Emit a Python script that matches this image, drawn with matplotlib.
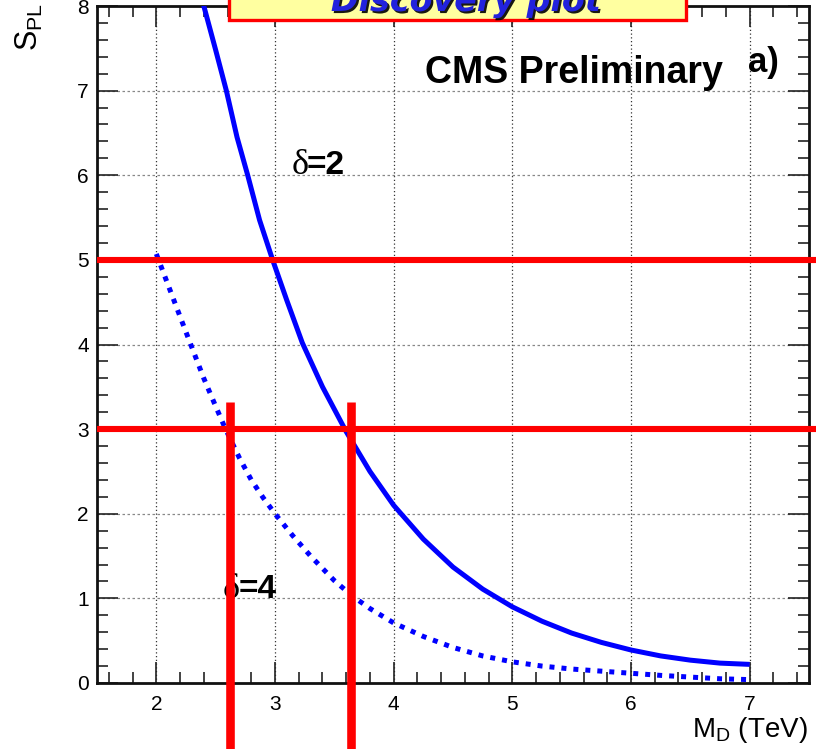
import matplotlib
matplotlib.use("Agg")
import matplotlib.pyplot as plt
from matplotlib.patches import Rectangle
from matplotlib.ticker import MultipleLocator
import matplotlib.patheffects as pe

plt.rcParams['font.family'] = ['Liberation Sans', 'DejaVu Sans']
plt.rcParams['mathtext.fontset'] = 'custom'
plt.rcParams['mathtext.rm'] = 'Liberation Sans'
plt.rcParams['mathtext.it'] = 'Liberation Sans:italic'

# Significance S_PL versus M_D for two numbers of extra dimensions
md_delta2 = [2.35, 2.40, 2.50, 2.59, 2.68, 2.77, 2.87, 2.98, 3.10, 3.23, 3.40, 3.60,
             3.80, 4.00, 4.25, 4.50, 4.75, 5.00, 5.25, 5.50, 5.75, 6.00, 6.25, 6.50,
             6.75, 7.00]
spl_delta2 = [8.30, 8.00, 7.48, 7.00, 6.45, 6.00, 5.47, 5.00, 4.52, 4.02, 3.50, 2.97,
              2.50, 2.10, 1.70, 1.37, 1.11, 0.90, 0.73, 0.59, 0.48, 0.39, 0.32, 0.27,
              0.235, 0.22]

md_delta4 = [2.00, 2.10, 2.20, 2.29, 2.40, 2.50, 2.58, 2.70, 2.80, 2.90, 3.00, 3.15,
             3.30, 3.50, 3.65, 3.80, 4.00, 4.25, 4.50, 4.75, 5.00, 5.25, 5.50, 5.75,
             6.00, 6.25, 6.50, 6.75, 7.00]
spl_delta4 = [5.07, 4.70, 4.33, 4.00, 3.60, 3.27, 3.01, 2.66, 2.40, 2.19, 2.00, 1.74,
              1.50, 1.21, 1.03, 0.88, 0.71, 0.55, 0.42, 0.32, 0.25, 0.20, 0.165, 0.14,
              0.115, 0.09, 0.07, 0.05, 0.04]

# Discovery thresholds and the corresponding reach in M_D
thresholds = [5, 3]
reach_md = [2.624, 3.640]
reach_top = 3.32

xlim = (1.5, 7.5)
ylim = (0, 8)
xticks = [2, 3, 4, 5, 6, 7]
yticks = [0, 1, 2, 3, 4, 5, 6, 7, 8]

W, H = 816, 749
fig = plt.figure(figsize=(W / 100, H / 100), dpi=100)
ax = fig.add_axes([97 / W, 1 - 683 / H, (809 - 97) / W, (683 - 6) / H])

ax.set_xlim(*xlim)
ax.set_ylim(*ylim)
ax.set_xticks(xticks)
ax.set_yticks(yticks)
ax.xaxis.set_minor_locator(MultipleLocator(0.2))
ax.yaxis.set_minor_locator(MultipleLocator(0.2))
ax.tick_params(which='both', direction='in', top=True, right=True,
               color='#222222', width=1.2)
ax.tick_params(which='major', length=15, labelsize=15, pad=6)
ax.tick_params(which='minor', length=8)
ax.tick_params(axis='x', which='major', pad=9)
for s in ax.spines.values():
    s.set_linewidth(2.0)
    s.set_color('#111111')

ax.xaxis.grid(True, which='major', color='#333333', linestyle=(0, (1, 2)), linewidth=0.9)
ax.yaxis.grid(True, which='major', color='#888888', linestyle=(0, (2, 2)), linewidth=0.9)
ax.set_axisbelow(True)

# Curves
ax.plot(md_delta2, spl_delta2, color='#0000ff', linewidth=3.6, solid_capstyle='butt',
        solid_joinstyle='round', zorder=3)
ax.plot(md_delta4, spl_delta4, color='#0000ff', linewidth=3.6,
        linestyle=(0, (1.0, 1.4)), dash_capstyle='butt', zorder=3)

# Threshold lines running past the right spine
ytr = ax.get_yaxis_transform()
for t in thresholds:
    ax.plot([0, 1.05], [t, t], color='#ff0000', linewidth=4.4, transform=ytr,
            clip_on=False, solid_capstyle='butt', zorder=5)

# Reach markers running below the frame
for m in reach_md:
    ax.plot([m, m], [reach_top, -1.0], color='#ff0000', linewidth=6.2,
            clip_on=False, solid_capstyle='butt', zorder=5)

# Curve labels
delta_font = ['Liberation Serif', 'DejaVu Serif']
ax.text(3.285, 6.02, '\u03b4', family=delta_font, fontsize=26,
        ha='right', va='baseline', zorder=4)
ax.text(3.27, 6.02, '=2', fontsize=24, fontweight='bold', ha='left', va='baseline', zorder=4)
ax.text(2.705, 1.007, '\u03b4', family=delta_font, fontsize=26,
        ha='right', va='baseline', zorder=4)
ax.text(2.69, 1.007, '=4', fontsize=24, fontweight='bold', ha='left', va='baseline', zorder=4)

ax.text(4.26, 7.085, 'CMS Preliminary', fontsize=27, fontweight='bold',
        ha='left', va='baseline', zorder=4)
ax.text(6.99, 7.22, 'a)', fontsize=25, fontweight='bold', ha='left', va='baseline', zorder=4)

# Axis titles
fig.text(808 / W, 1 - 730 / H, r'M$_{\mathrm{D}}$ (TeV)', fontsize=20, ha='right', va='center')
fig.text(29 / W, 1 - 3 / H, r'S$_{\mathrm{PL}}$', fontsize=22, rotation=90, ha='center', va='top')

# Title box at the top edge
box = Rectangle((229 / W, 1 - 20 / H), (686 - 229) / W, 40 / H, transform=fig.transFigure,
                facecolor='#ffffa0', edgecolor='#ff0000', linewidth=2.4, zorder=10)
fig.add_artist(box)
fig.text(466 / W, 1 - 11 / H, 'Discovery plot', fontsize=24, fontweight='bold',
         style='italic', color='#2222dd', ha='center', va='baseline', zorder=11,
         family=['DejaVu Sans'],
         path_effects=[pe.withSimplePatchShadow(offset=(1.5, -1.5), shadow_rgbFace='black', alpha=0.9)])

fig.savefig('out.png', dpi=100)
